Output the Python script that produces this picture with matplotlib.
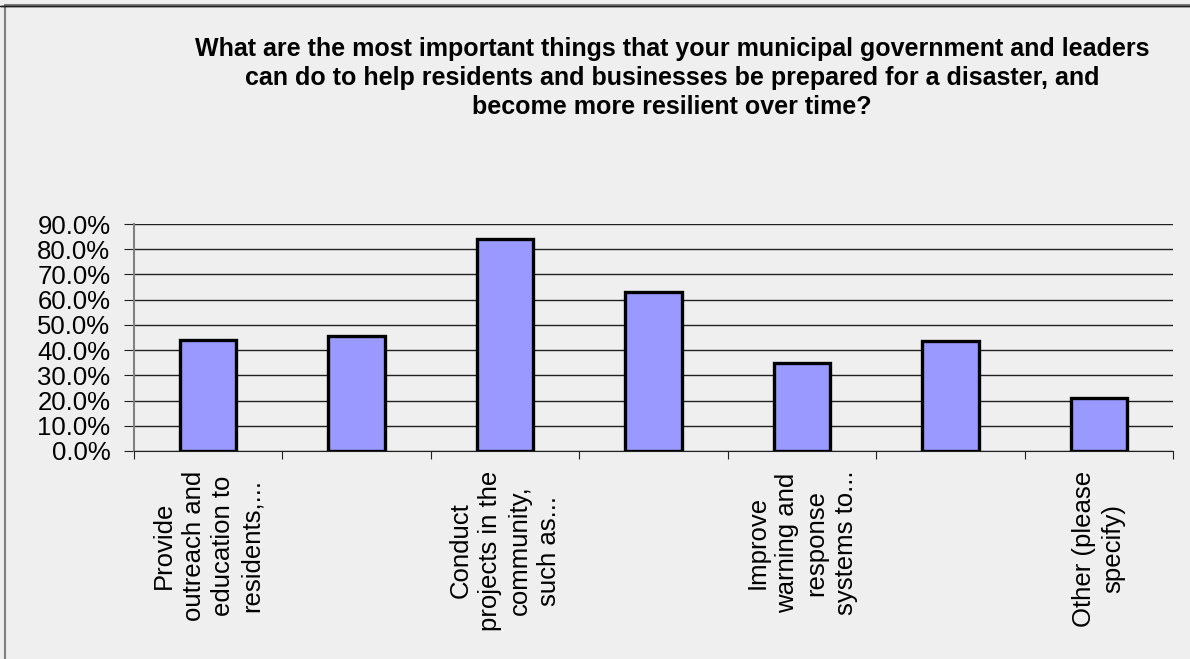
import numpy as np
import matplotlib.pyplot as plt
from matplotlib.patches import Rectangle

# ====================== Survey data ======================
categories = [
    "Provide\noutreach and\neducation to\nresidents,...",
    "",
    "Conduct\nprojects in the\ncommunity,\nsuch as...",
    "",
    "Improve\nwarning and\nresponse\nsystems to...",
    "",
    "Other (please\nspecify)",
]
shares = [0.439, 0.455, 0.841, 0.631, 0.349, 0.438, 0.209]
yticks = np.arange(0, 0.91, 0.1)

title = ("What are the most important things that your municipal government and leaders\n"
         "can do to help residents and businesses be prepared for a disaster, and\n"
         "become more resilient over time?")

plt.rcParams['font.family'] = ['Liberation Sans', 'DejaVu Sans']
bg = '#efefef'

fig = plt.figure(figsize=(11.9, 6.59), dpi=100, facecolor=bg)
fig.patches.append(Rectangle((4.5 / 1190, -0.1), 1.2, 1 - 4.5 / 659 + 0.1,
                             transform=fig.transFigure, fill=False,
                             edgecolor='#808080', linewidth=1.5))
fig.patches.append(Rectangle((0, 1 - 5.5 / 659), 1.2, 0, transform=fig.transFigure,
                             fill=False, edgecolor='#202020', linewidth=1))

ax = fig.add_axes([134 / 1190, 1 - 451 / 659, (1173 - 134) / 1190, (451 - 224) / 659])
ax.set_facecolor(bg)

x = np.arange(len(shares))
ax.bar(x, shares, width=0.38, color='#9999ff', edgecolor='black', linewidth=2.4, zorder=3)

ax.set_xlim(-0.5, len(shares) - 0.5)
ax.set_ylim(0, 0.9)
ax.set_yticks(yticks)
ax.set_yticklabels([f"{v * 100:.1f}%" for v in yticks], fontsize=18.5)
ax.yaxis.grid(True, color='#202020', linewidth=1, zorder=1)

ax.set_xticks(np.arange(-0.5, len(shares)), minor=False)
ax.set_xticklabels([])
ax.set_xticks(x, minor=True)
ax.set_xticklabels(categories, minor=True, rotation=90, fontsize=18.5,
                   va='top', ha='center', multialignment='center', linespacing=1.28)
ax.tick_params(axis='x', which='minor', length=0, pad=14)
ax.tick_params(axis='x', which='major', length=6, direction='out', color='#202020')
ax.tick_params(axis='y', length=7, direction='out', color='#202020', pad=10)

for side in ['top', 'right']:
    ax.spines[side].set_visible(False)
ax.spines['left'].set_color('#808080')
ax.spines['left'].set_linewidth(1.5)
ax.spines['bottom'].set_color('#202020')
ax.spines['bottom'].set_zorder(4)

fig.text(672 / 1190, 1 - 37 / 659, title, ha='center', va='top', fontsize=18,
         fontweight='bold', linespacing=1.27)

plt.savefig('out.png', dpi=100, facecolor=bg)
